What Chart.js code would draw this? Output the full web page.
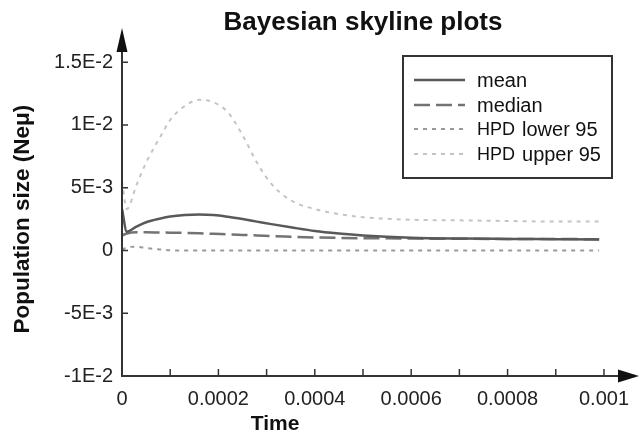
<!DOCTYPE html>
<html>
<head>
<meta charset="utf-8">
<script src="https://cdn.jsdelivr.net/npm/chart.js@4.4.0/dist/chart.umd.min.js"></script>
<style>
  html, body { margin: 0; padding: 0; background: #fff; }
</style>
</head>
<body>
<canvas id="myChart" width="640" height="436"></canvas>
<script>
// time points
const times = [0, 0.00001, 0.00003, 0.00005, 0.00008, 0.0001, 0.00013, 0.00016, 0.00019, 0.00022,
    0.00025, 0.00028, 0.00031, 0.00035, 0.0004, 0.00045, 0.0005, 0.0006, 0.0007, 0.0008, 0.0009, 0.00099]

const meanVals = [3.3e-3, 1.5e-3, 1.9e-3, 2.25e-3, 2.55e-3, 2.7e-3, 2.82e-3, 2.87e-3, 2.82e-3, 2.68e-3,
    2.5e-3, 2.3e-3, 2.1e-3, 1.85e-3, 1.55e-3, 1.35e-3, 1.2e-3, 1.02e-3, 0.95e-3, 0.92e-3, 0.9e-3, 0.88e-3]
const medianVals = [1.2e-3, 1.35e-3, 1.45e-3, 1.45e-3, 1.43e-3, 1.42e-3, 1.4e-3, 1.37e-3, 1.33e-3, 1.28e-3,
    1.24e-3, 1.2e-3, 1.15e-3, 1.1e-3, 1.04e-3, 1.0e-3, 0.98e-3, 0.95e-3, 0.93e-3, 0.92e-3, 0.91e-3, 0.9e-3]
const lowerVals = [0.05e-3, 0.25e-3, 0.3e-3, 0.2e-3, 0.08e-3, 0.02e-3, 0, 0, 0, 0,
    0, 0, 0, 0, 0, 0, 0, 0, 0, 0, 0, 0]
const upperVals = [5.5e-3, 3.3e-3, 5.2e-3, 7.0e-3, 9.1e-3, 10.4e-3, 11.5e-3, 12.0e-3, 11.8e-3, 11.0e-3,
    9.2e-3, 7.0e-3, 5.3e-3, 4.0e-3, 3.3e-3, 2.9e-3, 2.65e-3, 2.45e-3, 2.4e-3, 2.35e-3, 2.3e-3, 2.3e-3]

const seriesNames = ['mean', 'median', 'HPD lower 95', 'HPD upper 95']

const xTicks = [0, 0.0001, 0.0002, 0.0003, 0.0004, 0.0005, 0.0006, 0.0007, 0.0008, 0.0009, 0.001]
const xTickLabels = ['0', '', '0.0002', '', '0.0004', '', '0.0006', '', '0.0008', '', '0.001']
const yTicks = [-0.01, -0.005, 0, 0.005, 0.01, 0.015]
const yTickLabels = ['-1E-2', '-5E-3', '0', '5E-3', '1E-2', '1.5E-2']

const toPoints = vals => vals.map((v, i) => ({x: times[i], y: v}))

// axis lines, arrows, inner tick marks, x title
const axesPlugin = {
    id: 'axes',
    afterDraw(chart) {
        const ctx = chart.ctx
        const xs = chart.scales.x, ys = chart.scales.y
        const x0 = xs.getPixelForValue(0), y0 = ys.getPixelForValue(-0.01)
        ctx.save()
        ctx.strokeStyle = '#333'
        ctx.fillStyle = '#111'
        ctx.lineWidth = 2
        ctx.setLineDash([])
        ctx.beginPath()
        ctx.moveTo(x0, y0 + 1); ctx.lineTo(x0, 45)
        ctx.moveTo(x0 - 1, y0); ctx.lineTo(625, y0)
        ctx.stroke()
        ctx.lineWidth = 1.5
        ctx.beginPath()
        yTicks.forEach(v => {
            if (v === -0.01) return
            const py = ys.getPixelForValue(v)
            ctx.moveTo(x0, py); ctx.lineTo(x0 + 6, py)
        })
        xTicks.forEach(v => {
            if (v === 0) return
            const px = xs.getPixelForValue(v)
            ctx.moveTo(px, y0); ctx.lineTo(px, y0 - 7)
        })
        ctx.stroke()
        // arrows
        ctx.beginPath()
        ctx.moveTo(x0, 28); ctx.lineTo(x0 - 5.5, 52); ctx.lineTo(x0 + 5.5, 52); ctx.closePath()
        ctx.fill()
        ctx.beginPath()
        ctx.moveTo(639, y0); ctx.lineTo(618, y0 - 6.5); ctx.lineTo(618, y0 + 6.5); ctx.closePath()
        ctx.fill()
        // x title
        ctx.font = 'bold 21px "Liberation Sans", Arial, sans-serif'
        ctx.textAlign = 'center'
        ctx.textBaseline = 'middle'
        ctx.fillText('Time', 275, 424)
        ctx.restore()
    }
}

// boxed legend in the upper right
const boxLegend = {
    id: 'boxLegend',
    afterDraw(chart) {
        const ctx = chart.ctx
        const left = 403, top = 56, w = 209, h = 122
        const rows = [80, 105, 129, 154]
        ctx.save()
        ctx.strokeStyle = '#333'
        ctx.lineWidth = 2
        ctx.strokeRect(left, top, w, h)
        chart.data.datasets.forEach((ds, i) => {
            const ry = rows[i]
            ctx.strokeStyle = ds.borderColor
            ctx.lineWidth = ds.borderWidth
            ctx.setLineDash(ds.borderDash || [])
            ctx.beginPath()
            ctx.moveTo(414, ry); ctx.lineTo(465, ry)
            ctx.stroke()
            ctx.setLineDash([])
            ctx.fillStyle = '#111'
            ctx.textBaseline = 'middle'
            ctx.textAlign = 'left'
            let tx = 477
            let label = ds.label
            if (label.startsWith('HPD ')) {
                ctx.font = '18px "Liberation Sans Narrow", "Arial Narrow", sans-serif'
                ctx.fillText('HPD', tx, ry + 1)
                tx += ctx.measureText('HPD').width + 7
                label = label.slice(4)
            }
            ctx.font = '20px "Liberation Sans", Arial, sans-serif'
            ctx.fillText(label, tx, ry + 1)
        })
        ctx.restore()
    }
}

const ctx = document.getElementById('myChart')
const myChart = new Chart(ctx, {
    type: 'line',
    data: {
        datasets: [{
            label: seriesNames[0],
            data: toPoints(meanVals),
            borderColor: '#595959',
            borderWidth: 2.5
        }, {
            label: seriesNames[1],
            data: toPoints(medianVals),
            borderColor: '#737373',
            borderWidth: 2.5,
            borderDash: [16, 6]
        }, {
            label: seriesNames[2],
            data: toPoints(lowerVals),
            borderColor: '#9a9a9a',
            borderWidth: 2,
            borderDash: [4, 5]
        }, {
            label: seriesNames[3],
            data: toPoints(upperVals),
            borderColor: '#c4c4c4',
            borderWidth: 2,
            borderDash: [4, 5]
        }]
    },
    options: {
        responsive: false,
        animation: false,
        devicePixelRatio: 1,
        layout: { padding: { top: 0, right: 33, bottom: 0, left: 0 } },
        elements: {
            point: { radius: 0 },
            line: { tension: 0.4, cubicInterpolationMode: 'monotone', fill: false }
        },
        plugins: {
            legend: { display: false },
            tooltip: { enabled: false },
            title: {
                display: true,
                text: 'Bayesian skyline plots',
                fullSize: false,
                color: '#111',
                font: { family: '"Liberation Sans", Arial, sans-serif', size: 26, weight: 'bold' },
                padding: { top: 7, bottom: 24 }
            }
        },
        scales: {
            x: {
                type: 'linear',
                min: 0,
                max: 0.001,
                grid: { display: false, drawTicks: false },
                border: { display: false },
                afterBuildTicks: scale => { scale.ticks = xTicks.map(v => ({value: v})) },
                afterFit: scale => { scale.height = 60 },
                ticks: {
                    autoSkip: false,
                    maxRotation: 0,
                    padding: 11,
                    color: '#222',
                    font: { family: '"Liberation Sans", Arial, sans-serif', size: 20 },
                    callback: (value, index) => xTickLabels[index]
                }
            },
            y: {
                type: 'linear',
                min: -0.01,
                max: 0.015,
                grid: { display: false, drawTicks: false },
                border: { display: false },
                afterBuildTicks: scale => { scale.ticks = yTicks.map(v => ({value: v})) },
                afterFit: scale => { scale.width = 122 },
                ticks: {
                    padding: 9,
                    color: '#222',
                    font: { family: '"Liberation Sans", Arial, sans-serif', size: 20 },
                    callback: (value, index) => yTickLabels[index]
                },
                title: {
                    display: true,
                    text: 'Population size (Neμ)',
                    color: '#111',
                    font: { family: '"Liberation Sans", Arial, sans-serif', size: 22.5, weight: 'bold' },
                    padding: { top: 9, bottom: 0 }
                }
            }
        }
    },
    plugins: [axesPlugin, boxLegend]
})
</script>
</body>
</html>
